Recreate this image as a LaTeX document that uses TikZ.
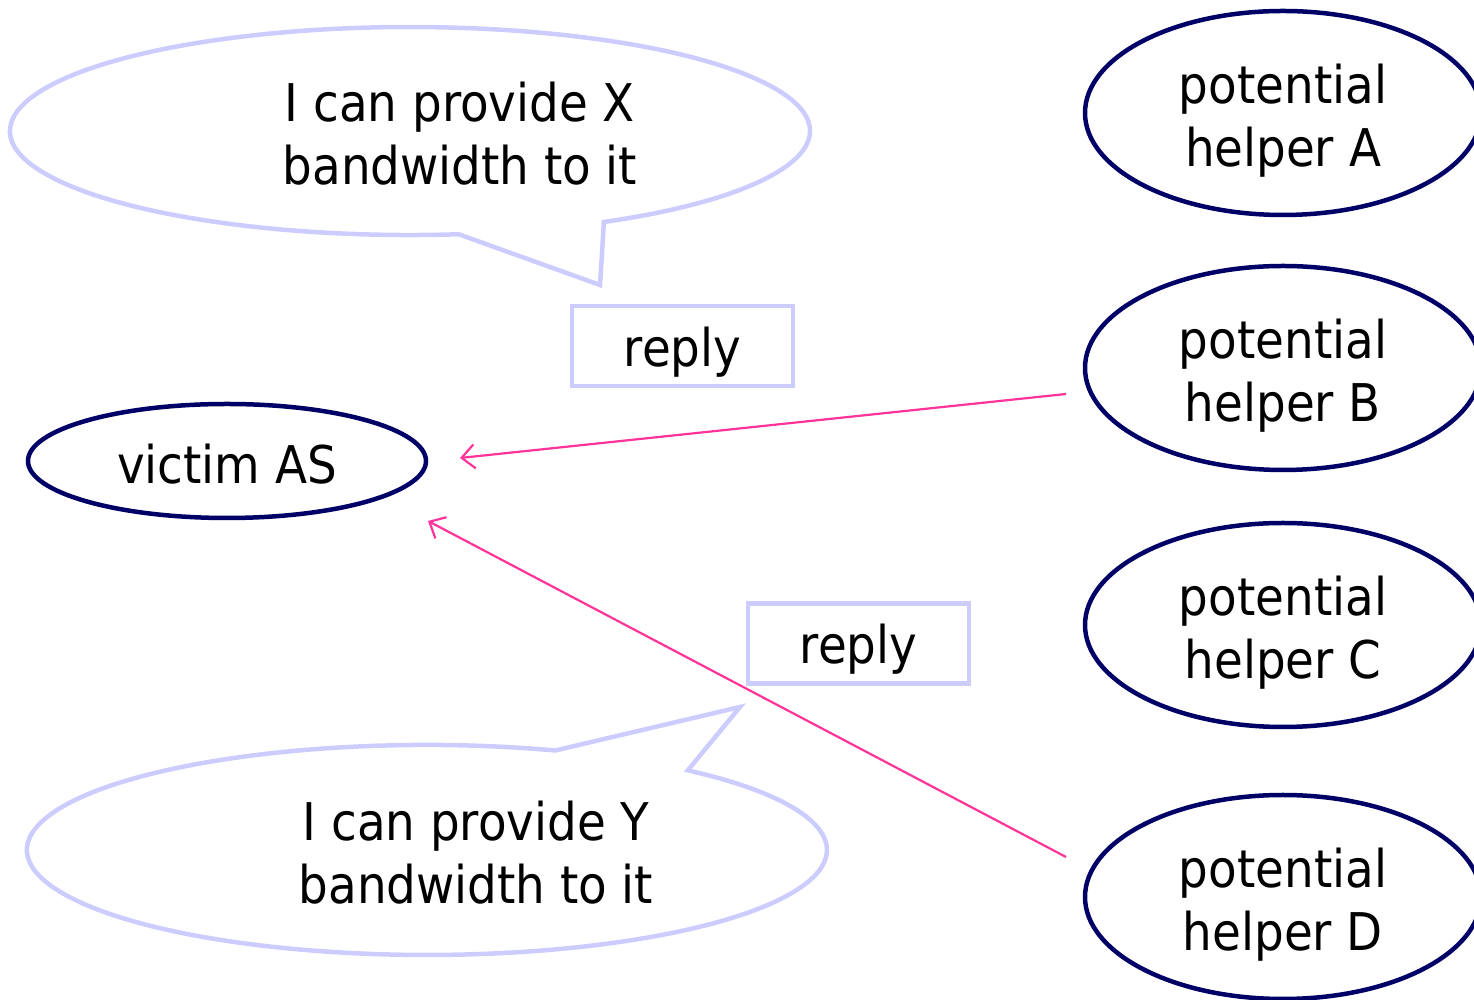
\documentclass[tikz,border=0pt]{standalone}
\usepackage{fontspec}
\setmainfont{DejaVu Sans Condensed}
\usetikzlibrary{arrows.meta,shapes.geometric}
\definecolor{navy}{RGB}{0,0,102}
\definecolor{lav}{RGB}{204,204,255}
\definecolor{pinkline}{RGB}{255,51,153}
\begin{document}
\begin{tikzpicture}[x=1pt,y=1pt,
  bigfont/.style={font=\fontsize{52pt}{63pt}\selectfont},
  helper/.style={ellipse, draw=navy, line width=4.5pt, minimum width=396pt, minimum height=204pt, inner sep=0pt},
  victim/.style={ellipse, draw=navy, line width=4.5pt, minimum width=398pt, minimum height=114pt, inner sep=0pt},
  txt/.style={align=center, inner sep=0pt, bigfont},
  replybox/.style={rectangle, draw=lav, line width=4.5pt, minimum width=221pt, minimum height=80pt, inner sep=0pt},
  callout/.style={draw=lav, line width=4.5pt, line join=miter},
  msg/.style={draw=pinkline, line width=2.2pt, -{Straight Barb[length=13pt,width=24pt,line width=2.2pt]}}
]
\useasboundingbox (0,0) rectangle (1474,1000);

% helpers
\node[helper] (hA) at (1283,887) {};
\node[helper] (hB) at (1283,632) {};
\node[helper] (hC) at (1283,375) {};
\node[helper] (hD) at (1283,103) {};
\node[txt] (tA) at ([yshift=-8pt]hA.center) {potential\\helper A};
\node[txt] (tB) at ([yshift=-8pt]hB.center) {potential\\helper B};
\node[txt] (tC) at ([yshift=-8pt]hC.center) {potential\\helper C};
\node[txt] (tD) at ([yshift=-8pt]hD.center) {potential\\helper D};

% victim
\node[victim] (v) at (227,539) {};
\node[txt] (tv) at ([yshift=-3pt]v.center) {victim AS};

% reply boxes
\node[replybox] (r1) at (682.5,654) {};
\node[replybox] (r2) at (858.5,356.5) {};
\node[txt] (tr1) at ([yshift=-6pt]r1.center) {reply};
\node[txt] (tr2) at ([yshift=-6pt]r2.center) {reply};

% callouts
\draw[callout] (600,715) -- (603.9,778.0)
  arc[start angle=-61, end angle=277, x radius=400, y radius=104] -- cycle;
\node[txt] (cX) at (460,866) {I can provide X\\bandwidth to it};

\draw[callout] (740,293) -- (555.2,249.5)
  arc[start angle=71.3, end angle=409.3, x radius=400, y radius=105] -- cycle;
\node[txt] (cY) at (476,147) {I can provide Y\\bandwidth to it};

% arrows
\coordinate (sB) at (1066,606);
\coordinate (eB) at (460,542);
\coordinate (sD) at (1066,143);
\coordinate (eD) at (428,479);
\draw[msg] (sB) -- (eB);
\draw[msg] (sD) -- (eD);
\end{tikzpicture}
\end{document}
